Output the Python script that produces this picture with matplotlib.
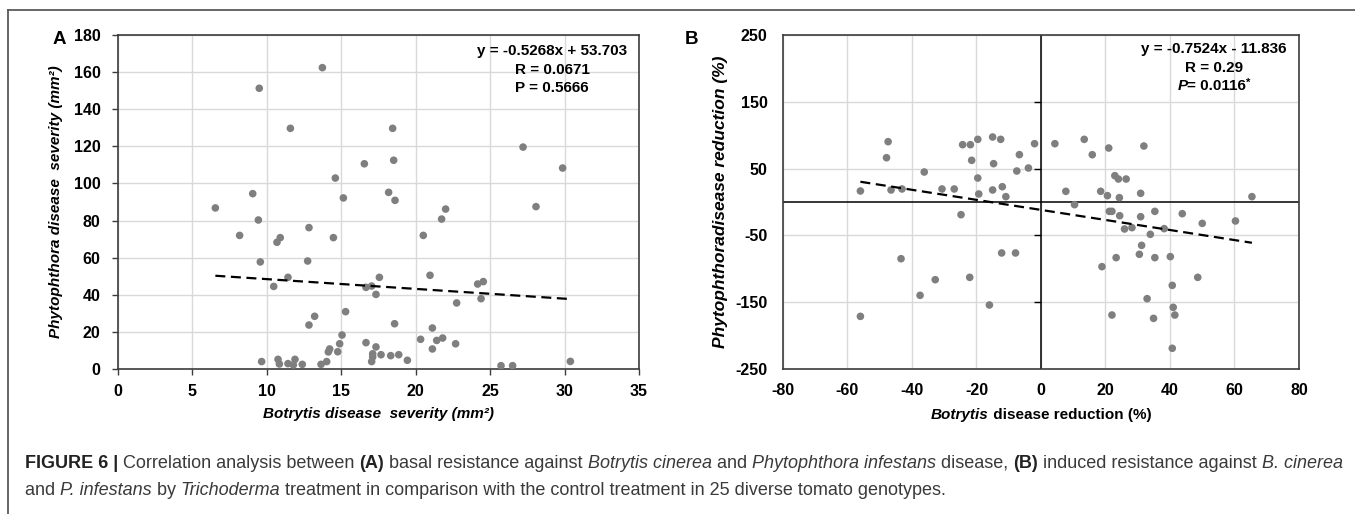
import matplotlib
matplotlib.use("Agg")
import matplotlib.pyplot as plt
from matplotlib.lines import Line2D
import numpy as np

plt.rcParams["font.family"] = ["Liberation Sans", "DejaVu Sans"]
plt.rcParams["axes.unicode_minus"] = False

# ---------------- data ----------------
# (A) basal disease severity per genotype/replicate
botrytis_severity = [
    9.49, 13.73, 11.58, 18.45, 16.55, 18.52, 14.60, 9.05, 18.18, 6.54,
    15.14, 18.61, 9.43, 8.17, 20.51, 21.74, 22.01, 10.68, 10.90, 14.47,
    12.83, 9.56, 12.74, 11.42, 10.46, 17.56, 16.66, 17.04, 17.33, 20.96,
    13.21, 12.83, 15.29, 18.58, 15.05, 14.89, 14.22, 14.13, 14.76, 16.66,
    17.33, 17.11, 17.67, 17.11, 17.04, 18.32, 18.86, 19.44, 20.33, 21.12,
    21.12, 21.41, 21.81, 22.68, 9.65, 10.75, 10.84, 11.42, 11.89, 11.78,
    12.38, 13.64, 14.02, 24.16, 24.54, 24.39, 22.75, 25.73, 26.51, 30.39,
    27.21, 29.87, 28.08,
]
phytophthora_severity = [
    151.3, 162.4, 129.7, 129.7, 110.6, 112.5, 102.9, 94.5, 95.2, 86.8,
    92.2, 90.9, 80.3, 72.0, 72.0, 80.8, 86.2, 68.3, 70.8, 70.8,
    76.2, 57.7, 58.2, 49.4, 44.5, 49.4, 44.0, 44.7, 40.2, 50.5,
    28.4, 23.7, 30.9, 24.4, 18.3, 13.6, 10.8, 9.2, 9.3, 14.2,
    11.9, 8.2, 7.7, 6.5, 4.0, 7.2, 7.7, 4.7, 16.0, 22.1,
    10.8, 15.4, 16.7, 13.6, 4.0, 5.2, 2.7, 2.9, 5.2, 2.2,
    2.5, 2.5, 4.0, 45.8, 47.1, 37.9, 35.6, 1.8, 1.8, 4.1,
    119.6, 108.3, 87.5,
]
fit_a = (-0.5268, 53.703)
stats_a = ("y = -0.5268x + 53.703", "R = 0.0671", "P = 0.5666")

# (B) disease reduction by Trichoderma relative to control
botrytis_reduction = [
    -47.4, -47.9, -36.2, -24.3, -21.9, -19.6, -15.0, -12.5, -21.5, -14.7,
    -6.7, -7.5, -3.9, -2.0, -19.6, -56.0, -46.5, -43.1, -30.7, -26.9,
    -15.0, -12.0, -19.3, -10.9, -24.8, -43.4, -32.8, -22.1, -37.5, -16.0,
    -56.0, -12.2, -7.9, 4.3, 13.4, 15.9, 21.0, 31.9, 22.9, 24.0,
    26.4, 7.7, 18.5, 20.6, 24.3, 30.9, 65.4, 10.4, 21.2, 22.0,
    24.4, 30.9, 35.3, 43.8, 50.0, 60.3, 25.9, 28.2, 38.2, 33.9,
    31.2, 30.5, 35.3, 40.1, 23.3, 18.9, 48.6, 40.7, 32.9, 41.0,
    22.0, 34.9, 41.5, 40.7,
]
phytophthora_reduction = [
    90.3, 66.3, 44.9, 85.8, 85.8, 93.8, 97.3, 93.8, 62.4, 57.4,
    70.9, 46.4, 50.9, 87.3, 35.9, 16.5, 18.0, 19.5, 19.5, 19.5,
    18.0, 22.9, 12.0, 8.0, -19.0, -84.9, -116.3, -112.8, -139.7, -154.2,
    -171.2, -76.3, -76.3, 87.3, 93.8, 70.8, 80.8, 83.8, 39.4, 34.4,
    34.4, 16.0, 16.0, 9.5, 6.5, 13.0, 8.0, -4.0, -14.0, -14.0,
    -20.5, -22.0, -14.0, -17.5, -32.0, -28.4, -40.4, -38.4, -39.9, -48.4,
    -64.9, -78.3, -83.3, -81.8, -83.3, -96.8, -112.8, -124.8, -144.7, -157.7,
    -169.2, -174.2, -169.2, -219.0,
]
fit_b = (-0.7524, -11.836)

a_xticks = [0, 5, 10, 15, 20, 25, 30, 35]
a_yticks = [0, 20, 40, 60, 80, 100, 120, 140, 160, 180]
b_xticks = [-80, -60, -40, -20, 0, 20, 40, 60, 80]
b_yticks = [-250, -150, -50, 50, 150, 250]

# ---------------- figure ----------------
W, H = 1355, 514
fig = plt.figure(figsize=(W / 100, H / 100), dpi=100)

POINT = "#7f7f7f"
GRID = "#d9d9d9"
SPINE = "#3c3c3c"
TICKFS = 11.5


def fx(px):
    return px / W


def fy(py):
    return 1 - py / H


def text_width(s, **kw):
    r = fig.canvas.get_renderer()
    t1 = fig.text(0, 0, "|" + s + "|", **kw)
    t2 = fig.text(0, 0, "||", **kw)
    w = t1.get_window_extent(r).width - t2.get_window_extent(r).width
    t1.remove()
    t2.remove()
    return w


def put_runs(x, y, runs, ha="left", base=None):
    """Write styled runs one after another on a shared baseline (pixels)."""
    base = base or {}
    widths = []
    for s, kw in runs:
        k = {**base, **kw}
        k.pop("dy", None)
        widths.append(text_width(s, **k))
    total = sum(widths)
    x0 = x - {"left": 0, "center": total / 2, "right": total}[ha]
    for (s, kw), w in zip(runs, widths):
        k = {**base, **kw}
        dy = k.pop("dy", 0)
        fig.text(fx(x0), fy(y - dy), s, ha="left", va="baseline", **k)
        x0 += w
    return total


# outer frame (top rule and left rule)
fig.add_artist(Line2D([fx(8), 1], [fy(10), fy(10)], transform=fig.transFigure,
                      color="#5a5a5a", lw=1.3))
fig.add_artist(Line2D([fx(8), fx(8)], [fy(10), 0], transform=fig.transFigure,
                      color="#5a5a5a", lw=1.3))


def style_axes(ax):
    ax.set_axisbelow(True)
    ax.grid(True, color=GRID, lw=1.0)
    for sp in ax.spines.values():
        sp.set_color(SPINE)
        sp.set_linewidth(1.2)
    for lab in ax.get_xticklabels() + ax.get_yticklabels():
        lab.set_fontweight("bold")
        lab.set_fontsize(TICKFS)


# ---- panel A ----
axA = fig.add_axes([fx(118), 1 - 369 / H, 521 / W, 334 / H])
axA.scatter(botrytis_severity, phytophthora_severity, s=30, color=POINT,
            edgecolors="none", zorder=3)
xa = np.array([min(botrytis_severity), max(botrytis_severity)])
axA.plot(xa, fit_a[0] * xa + fit_a[1], color="black", lw=1.6,
         linestyle=(0, (4.5, 2.5)), zorder=4)
axA.set_xlim(0, 35)
axA.set_ylim(0, 180)
axA.set_xticks(a_xticks)
axA.set_yticks(a_yticks)
axA.tick_params(axis="both", direction="out", length=4.5, width=1, color=SPINE)
axA.tick_params(axis="y", pad=8)
axA.tick_params(axis="x", pad=6)
style_axes(axA)

# ---- panel B ----
axB = fig.add_axes([fx(783), 1 - 369 / H, 516 / W, 334 / H])
axB.scatter(botrytis_reduction, phytophthora_reduction, s=30, color=POINT,
            edgecolors="none", zorder=3)
xb = np.array([min(botrytis_reduction), max(botrytis_reduction)])
axB.plot(xb, fit_b[0] * xb + fit_b[1], color="black", lw=1.6,
         linestyle=(0, (4.5, 2.5)), zorder=4)
axB.axhline(0, color="black", lw=1.1, zorder=2)
axB.axvline(0, color="black", lw=1.1, zorder=2)
inner = b_yticks[1:-1]
axB.plot(np.zeros(len(inner)), inner, linestyle="none", marker=0,
         markersize=5, color="black", mew=1, zorder=2)
axB.set_xlim(-80, 80)
axB.set_ylim(-250, 250)
axB.set_xticks(b_xticks)
axB.set_yticks(b_yticks)
axB.tick_params(axis="both", length=0)
axB.tick_params(axis="y", pad=11)
axB.tick_params(axis="x", pad=10)
style_axes(axB)

# ---- panel letters ----
fig.text(fx(59), fy(39), "A", fontsize=13.5, fontweight="bold", ha="center", va="center")
fig.text(fx(692), fy(39), "B", fontsize=13.5, fontweight="bold", ha="center", va="center")

# ---- axis titles ----
LABFS = 11
fig.text(fx(378.5), fy(414), "Botrytis disease  severity (mm²)", fontsize=LABFS,
         fontweight="bold", fontstyle="italic", ha="center", va="center")
fig.text(fx(56), fy(202), "Phytophthora disease  severity (mm²)", fontsize=LABFS,
         fontweight="bold", fontstyle="italic", ha="center", va="center", rotation=90)
put_runs(1041, 419, [("Botrytis", {"fontstyle": "italic"}),
                     (" disease reduction (%)", {})],
         ha="center", base={"fontsize": LABFS, "fontweight": "bold"})
fig.text(fx(720), fy(202), "Phytophthoradisease reduction (%)", fontsize=12.5,
         fontweight="bold", fontstyle="italic", ha="center", va="center", rotation=90)

# ---- regression statistics ----
STATFS = 11
for line, y in zip(stats_a, (55, 74, 92)):
    put_runs(552, y, [(line, {})], ha="center",
             base={"fontsize": STATFS, "fontweight": "bold"})
sb = {"fontsize": STATFS, "fontweight": "bold"}
put_runs(1214, 53, [("y = -0.7524x - 11.836", {})], ha="center", base=sb)
put_runs(1214, 72, [("R = 0.29", {})], ha="center", base=sb)
put_runs(1214, 90, [("P", {"fontstyle": "italic"}), ("= 0.0116", {}),
                    ("*", {"fontsize": 8, "dy": 4})], ha="center", base=sb)

# ---- caption ----
CAP = "#3a3a3a"
line1 = [("FIGURE 6 | ", {"fontweight": "bold", "color": "#222222"}),
         ("Correlation analysis between ", {}),
         ("(A)", {"fontweight": "bold", "color": "#222222"}),
         (" basal resistance against ", {}),
         ("Botrytis cinerea", {"fontstyle": "italic"}),
         (" and ", {}),
         ("Phytophthora infestans", {"fontstyle": "italic"}),
         (" disease, ", {}),
         ("(B)", {"fontweight": "bold", "color": "#222222"}),
         (" induced resistance against ", {}),
         ("B. cinerea", {"fontstyle": "italic"})]
line2 = [("and ", {}),
         ("P. infestans", {"fontstyle": "italic"}),
         (" by ", {}),
         ("Trichoderma", {"fontstyle": "italic"}),
         (" treatment in comparison with the control treatment in 25 diverse tomato genotypes.", {})]

probe = sum(text_width(s, **{"fontsize": 10, **kw}) for s, kw in line1)
capfs = 10 * (1342 - 25) / probe
cbase = {"fontsize": capfs, "color": CAP}
put_runs(25, 468, line1, base=cbase)
put_runs(25, 495, line2, base=cbase)

fig.savefig("out.png", dpi=100)
